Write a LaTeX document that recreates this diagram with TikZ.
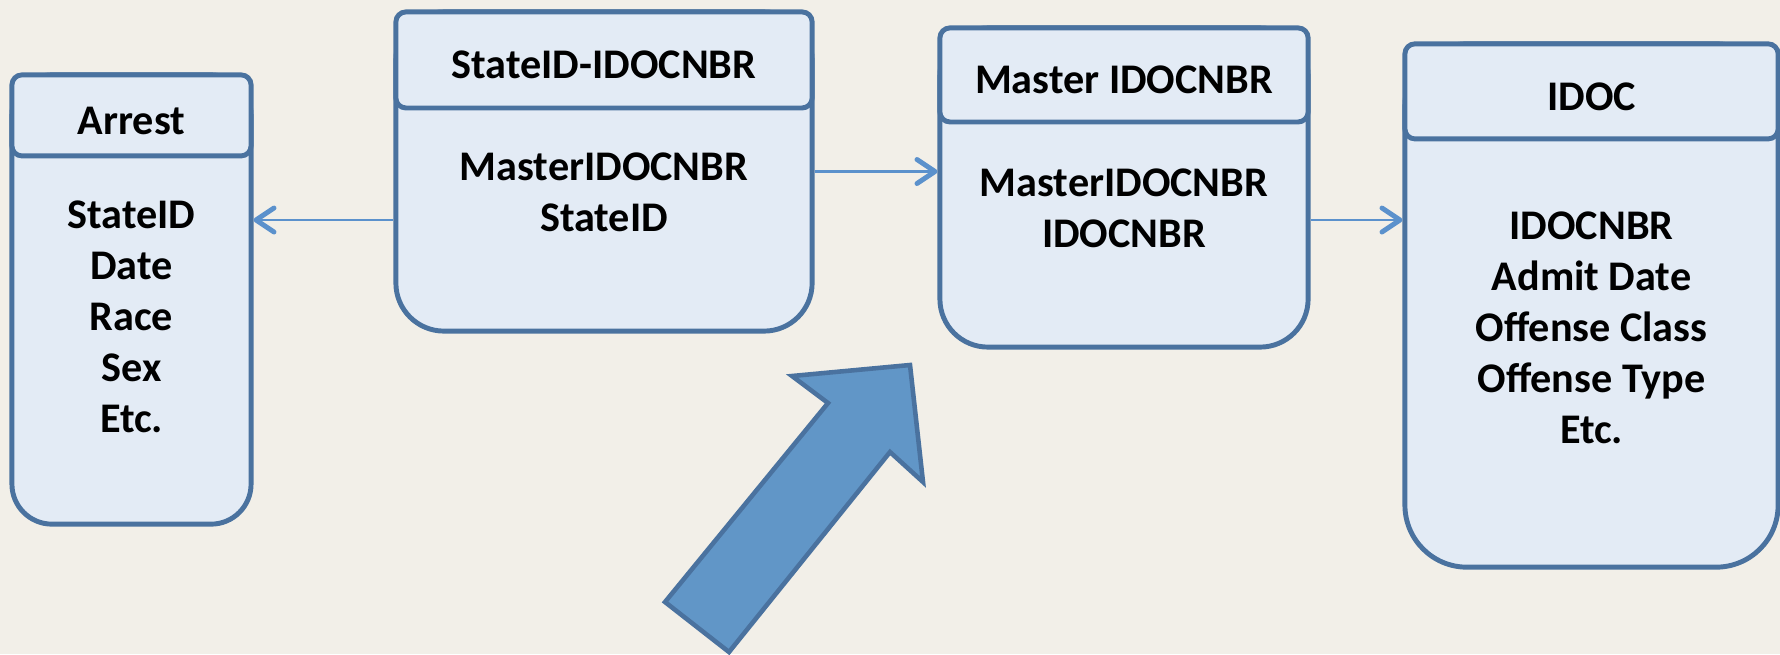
\documentclass[tikz,border=0pt]{standalone}
\usepackage{fontspec}
\setmainfont{Carlito}
\usetikzlibrary{arrows.meta}
\definecolor{paper}{RGB}{242,239,232}
\definecolor{boxfill}{RGB}{227,235,245}
\definecolor{boxline}{RGB}{74,114,159}
\definecolor{linkblue}{RGB}{91,145,204}
\definecolor{arrowfill}{RGB}{97,150,199}
\newcommand\tablefont{\fontsize{12pt}{14.5pt}\selectfont\bfseries}
\begin{document}
\begin{tikzpicture}[x=0.01cm, y=-0.01cm,
    tablebox/.style={rectangle, draw=boxline, fill=boxfill, line width=1.4pt, inner sep=0pt},
    tablehead/.style={tablebox, rounded corners=0.1cm, anchor=north, text height=10.6pt, text depth=0pt, font=\tablefont},
    fields/.style={align=center, font=\tablefont},
    link/.style={draw=linkblue, line width=0.6pt, -{Straight Barb[length=1.8mm, width=2.4mm, line width=1.4pt, round]}},
    bigarrow/.style={fill=arrowfill, draw=boxline, line width=1.3pt}]
  \useasboundingbox (0,0) rectangle (1780,654);
  \fill[paper] (0,0) rectangle (1780,654);

  % tables
  \node[tablebox, rounded corners=0.4cm, minimum width=2.39cm, minimum height=4.49cm] (arrest) at (131.5,299.5) {};
  \node[tablehead, minimum width=2.39cm, minimum height=0.81cm] (arrest-head) at (arrest.north) {Arrest};
  \node[fields] (arrest-fields) at (131.5,317) {StateID\\Date\\Race\\Sex\\Etc.};

  \node[tablebox, rounded corners=0.48cm, minimum width=4.16cm, minimum height=3.19cm] (sid) at (604,171.5) {};
  \node[tablehead, minimum width=4.16cm, minimum height=0.96cm] (sid-head) at (sid.north) {StateID-IDOCNBR};
  \node[fields] (sid-fields) at (604,192) {MasterIDOCNBR\\StateID};

  \node[tablebox, rounded corners=0.48cm, minimum width=3.68cm, minimum height=3.19cm] (master) at (1124,187.5) {};
  \node[tablehead, minimum width=3.68cm, minimum height=0.94cm] (master-head) at (master.north) {Master IDOCNBR};
  \node[fields] (master-fields) at (1124,208) {MasterIDOCNBR\\IDOCNBR};

  \node[tablebox, rounded corners=0.62cm, minimum width=3.73cm, minimum height=5.23cm] (idoc) at (1591.5,305.5) {};
  \node[tablehead, minimum width=3.73cm, minimum height=0.95cm] (idoc-head) at (idoc.north) {IDOC};
  \node[fields] (idoc-fields) at (1591.5,328) {IDOCNBR\\Admit Date\\Offense Class\\Offense Type\\Etc.};

  % links
  \coordinate (s2a) at ([yshift=-4.85mm]sid.west);
  \coordinate (m2i) at ([yshift=-3.25mm]master.east);
  \draw[link] (s2a) -- (s2a -| arrest.east);
  \draw[link] (sid.east) -- (sid.east -| master.west);
  \draw[link] (m2i) -- (m2i -| idoc.west);

  % big arrow
  \draw[bigarrow] (665,602) -- (729,652) -- (890,452) -- (923,482) -- (910,365)
    -- (792,376) -- (828,403) -- cycle;
\end{tikzpicture}
\end{document}
